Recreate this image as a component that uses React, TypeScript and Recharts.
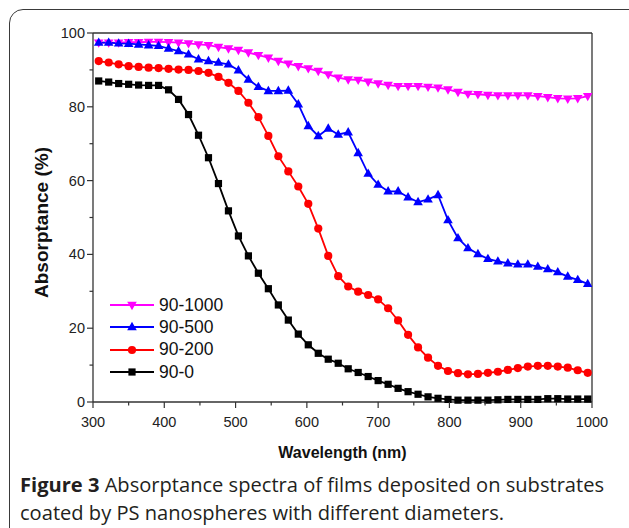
import React from 'react';
import { LineChart, Line, XAxis, YAxis, ReferenceLine, Legend, Label } from 'recharts';

// wavelength (nm)
const wavelength = [
  308, 322, 336, 350, 364, 378, 392, 406, 420, 434,
  448, 462, 476, 490, 504, 518, 532, 546, 560, 574,
  588, 602, 616, 630, 644, 658, 672, 686, 700, 714,
  728, 742, 756, 770, 784, 798, 812, 826, 840, 854,
  868, 882, 896, 910, 924, 938, 952, 966, 980, 994,
];

// absorptance (%)
const abs90_1000 = [
  97.4, 97.4, 97.4, 97.5, 97.5, 97.6, 97.6, 97.5, 97.4, 97.2,
  96.9, 96.7, 96.2, 95.8, 95.4, 94.7, 94.0, 93.3, 92.4, 91.7,
  91.0, 90.4, 89.7, 88.8, 87.9, 87.4, 87.3, 86.8, 86.3, 85.9,
  85.6, 85.6, 85.6, 85.4, 85.2, 84.7, 84.0, 83.5, 83.4, 83.2,
  83.1, 83.1, 83.1, 83.1, 82.9, 82.6, 82.3, 82.2, 82.3, 82.9,
];
const abs90_500 = [
  97.4, 97.4, 97.2, 97.1, 96.9, 96.7, 96.5, 95.8, 95.1, 94.2,
  92.9, 92.4, 92.0, 91.5, 89.9, 87.4, 85.4, 84.3, 84.3, 84.4,
  80.7, 74.8, 72.1, 74.1, 72.5, 73.1, 67.5, 61.9, 58.9, 57.1,
  57.1, 55.5, 54.2, 54.9, 56.1, 49.3, 44.4, 41.7, 40.1, 38.8,
  38.1, 37.6, 37.3, 37.3, 36.7, 36.0, 35.2, 34.0, 33.1, 32.0,
];
const abs90_200 = [
  92.4, 92.0, 91.5, 91.0, 90.8, 90.6, 90.5, 90.3, 90.1, 90.0,
  89.7, 89.2, 88.1, 86.5, 84.3, 81.1, 77.2, 72.1, 66.6, 62.5,
  58.4, 53.7, 47.0, 39.6, 34.1, 31.3, 29.9, 29.0, 27.8, 25.4,
  22.1, 18.2, 14.8, 12.0, 9.8, 8.4, 7.8, 7.5, 7.6, 7.9,
  8.2, 8.7, 9.2, 9.6, 9.8, 9.8, 9.6, 9.3, 8.6, 7.9,
];
const abs90_0 = [
  87.0, 86.7, 86.3, 86.1, 85.9, 85.8, 85.8, 84.6, 82.0, 77.9,
  72.3, 66.2, 59.2, 51.8, 45.0, 39.6, 34.9, 30.7, 26.3, 22.2,
  18.4, 15.5, 13.2, 11.6, 10.5, 9.0, 8.0, 6.9, 5.8, 4.8,
  3.7, 2.8, 2.1, 1.4, 1.0, 0.7, 0.5, 0.5, 0.5, 0.5,
  0.6, 0.7, 0.7, 0.7, 0.7, 0.9, 0.9, 0.8, 0.8, 0.8,
];

const xTicks = [300, 350, 400, 450, 500, 550, 600, 650, 700, 750, 800, 850, 900, 950, 1000];
const yTicks = [0, 10, 20, 30, 40, 50, 60, 70, 80, 90, 100];

const series = [
  { key: 's1000', name: '90-1000', values: abs90_1000, color: '#ff00ff', marker: 'down' },
  { key: 's500', name: '90-500', values: abs90_500, color: '#0000ff', marker: 'up' },
  { key: 's200', name: '90-200', values: abs90_200, color: '#ff0000', marker: 'circle' },
  { key: 's0', name: '90-0', values: abs90_0, color: '#000000', marker: 'square' },
];

const rows = wavelength.map((wl, i) => {
  const row: Record<string, number> = { wl };
  series.forEach(s => { row[s.key] = s.values[i]; });
  return row;
});

const AXIS = '#333';
const FONT = '"Liberation Sans", Arial, sans-serif';

const Marker = ({ kind, cx, cy, color }: { kind: string; cx: number; cy: number; color: string }) => {
  if (kind === 'square') return <rect x={cx - 3.6} y={cy - 3.6} width={7.2} height={7.2} fill={color} />;
  if (kind === 'circle') return <circle cx={cx} cy={cy} r={4.1} fill={color} />;
  if (kind === 'up') {
    return <polygon points={`${cx},${cy - 5.2} ${cx + 4.8},${cy + 3.2} ${cx - 4.8},${cy + 3.2}`} fill={color} />;
  }
  return <polygon points={`${cx},${cy + 5.2} ${cx + 4.8},${cy - 3.2} ${cx - 4.8},${cy - 3.2}`} fill={color} />;
};

const XTick = ({ x, y, payload }: any) => {
  const major = payload.value % 100 === 0;
  return (
    <g>
      <line x1={x} y1={y} x2={x} y2={y + (major ? 6 : 3.5)} stroke={AXIS} strokeWidth={1.2} />
      {major && (
        <text x={x} y={y + 24.5} textAnchor="middle" fontFamily={FONT} fontSize={14.5} fill="#222">
          {payload.value}
        </text>
      )}
    </g>
  );
};

const YTick = ({ x, y, payload }: any) => {
  const major = payload.value % 20 === 0;
  return (
    <g>
      <line x1={x} y1={y} x2={x - (major ? 6 : 3.5)} y2={y} stroke={AXIS} strokeWidth={1.2} />
      {major && (
        <text x={x - 8} y={y + 5} textAnchor="end" fontFamily={FONT} fontSize={14.5} fill="#222">
          {payload.value}
        </text>
      )}
    </g>
  );
};

const YTitle = ({ viewBox }: any) => {
  const cx = viewBox.x + 48;
  const cy = viewBox.y + viewBox.height / 2 + 5;
  return (
    <text x={cx} y={cy} transform={`rotate(-90, ${cx}, ${cy})`} textAnchor="middle"
      fontFamily={FONT} fontSize={19} fontWeight="bold" fill="#111">
      Absorptance (%)
    </text>
  );
};

const LegendBox = () => (
  <div style={{ fontFamily: FONT, fontSize: 17.5, color: '#111' }}>
    {series.map(s => (
      <div key={s.name} style={{ display: 'flex', alignItems: 'center', height: 22.3 }}>
        <svg width={44} height={14} style={{ display: 'block' }}>
          <line x1={0} y1={7} x2={44} y2={7} stroke={s.color} strokeWidth={2} />
          <Marker kind={s.marker} cx={22} cy={7} color={s.color} />
        </svg>
        <span style={{ marginLeft: 5 }}>{s.name}</span>
      </div>
    ))}
  </div>
);

const App = () => (
  <div style={{ position: 'absolute', left: 0, top: 0, width: 629, height: 528, overflow: 'hidden', background: '#fff' }}>
    <div style={{
      position: 'absolute', left: 9, top: 9, width: 640, height: 600,
      border: '1.5px solid #3a3a3a', borderRadius: 14,
    }} />
    <div style={{ position: 'absolute', left: 0, top: 0 }}>
      <LineChart width={629} height={528} data={rows} margin={{ top: 33, right: 37, left: 0, bottom: 66 }}>
        <XAxis
          dataKey="wl" type="number" domain={[300, 1000]} ticks={xTicks} interval={0}
          height={60} tickSize={0} tickMargin={0} tickLine={false} tick={<XTick />}
          axisLine={{ stroke: AXIS, strokeWidth: 1.3 }} allowDataOverflow
        >
          <Label value="Wavelength (nm)" position="insideBottom" offset={4}
            style={{ fontFamily: FONT, fontSize: 16, fontWeight: 'bold', fill: '#111' }} />
        </XAxis>
        <YAxis
          type="number" domain={[0, 100]} ticks={yTicks} interval={0}
          width={93} tickSize={0} tickMargin={0} tickLine={false} tick={<YTick />}
          axisLine={{ stroke: AXIS, strokeWidth: 1.3 }}
        >
          <Label content={<YTitle />} />
        </YAxis>
        <ReferenceLine y={100} stroke={AXIS} strokeWidth={1.3} />
        <ReferenceLine x={1000} stroke={AXIS} strokeWidth={1.3} />
        {series.map(s => (
          <Line
            key={s.key}
            dataKey={s.key}
            name={s.name}
            type="linear"
            stroke={s.color}
            strokeWidth={1.8}
            isAnimationActive={false}
            activeDot={false}
            dot={(p: any) => <Marker key={`${s.key}-${p.index}`} kind={s.marker} cx={p.cx} cy={p.cy} color={s.color} />}
          />
        ))}
        <Legend
          layout="vertical" align="center" verticalAlign="middle"
          content={<LegendBox />}
          wrapperStyle={{ left: 110, top: 294, width: 130 }}
        />
      </LineChart>
    </div>
    <div style={{
      position: 'absolute', left: 20, top: 471, width: 600,
      fontFamily: '"Open Sans", "Noto Sans", sans-serif', fontSize: 20.1, lineHeight: '28px', color: '#231f20',
    }}>
      <div><b>Figure 3</b> Absorptance spectra of films deposited on substrates</div>
      <div>coated by PS nanospheres with different diameters.</div>
    </div>
  </div>
);

export default App;
